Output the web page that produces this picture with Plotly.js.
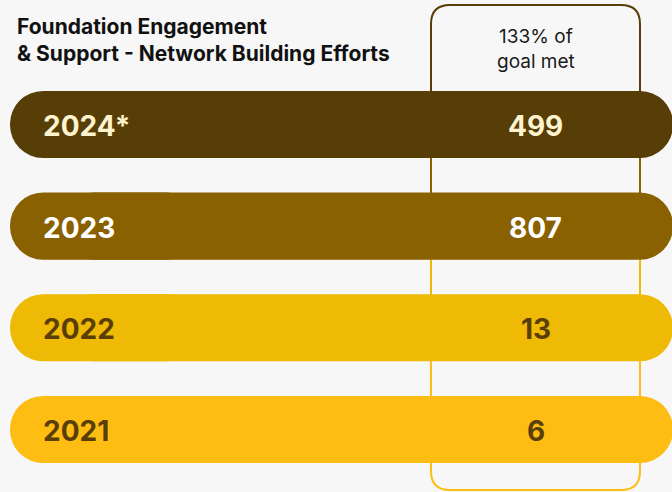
<!DOCTYPE html>
<html>
<head>
<meta charset="utf-8">
<script src="https://cdn.plot.ly/plotly-3.0.1.min.js"></script>
<style>
  html, body { margin: 0; padding: 0; background: #f7f7f7; }
  #chart { width: 672px; height: 492px; }
</style>
</head>
<body>
<div id="chart"></div>
<script>
// ---- data ----
const yearLabels = ['2024*', '2023', '2022', '2021'];
const contacts = [499, 807, 13, 6];
const goalNote = '133% of<br>goal met';
const chartTitle = 'Foundation Engagement<br>& Support - Network Building Efforts';

// ---- style ----
const barColors = ['#573d06', '#8a6100', '#eeba05', '#fdbd13'];
const textColors = ['#fdf3cf', '#ffffff', '#5a3e08', '#5a3e08'];
const W = 672, H = 492;
const FONT = 'Inter, "Noto Sans", sans-serif';

const TRACK_LEFT = 10, TRACK_RIGHT = 673, SPLIT = 200, LEFT_INNER = 60;
const LABEL_X = 41, VALUE_X = 535.5, TEXT_SHIFT = -1.5;
const COL_L = 431, COL_R = 640, COL_TOP = 5, COL_BOT = 490, COL_RAD = 19;

const py = p => 1 - p / H;
// category axis is drawn bottom-up, so the first label sits at the highest index
const catOrder = yearLabels.slice().reverse();
const catIndex = lab => catOrder.indexOf(lab);

const traces = [
  { // main track, rounded at right end
    type: 'bar', orientation: 'h', y: yearLabels,
    base: yearLabels.map(() => LEFT_INNER),
    x: yearLabels.map(() => TRACK_RIGHT - LEFT_INNER),
    width: 0.66, marker: { color: barColors, line: { width: 0 } },
    hoverinfo: 'skip', showlegend: false
  },
  { // left cap, rounded at left end
    type: 'bar', orientation: 'h', y: yearLabels,
    base: yearLabels.map(() => SPLIT),
    x: yearLabels.map(() => TRACK_LEFT - SPLIT),
    width: 0.66, marker: { color: barColors, line: { width: 0 } },
    hoverinfo: 'skip', showlegend: false
  }
];

// column outline segments (each tinted like the bar below it)
const segBounds = [COL_TOP, 130, 230, 330, COL_BOT];
const shapes = [];
const r = COL_RAD;
shapes.push({
  type: 'path', xref: 'x', yref: 'paper', layer: 'below',
  path: `M ${COL_L},${py(segBounds[1])} L ${COL_L},${py(COL_TOP + r)} Q ${COL_L},${py(COL_TOP)} ${COL_L + r},${py(COL_TOP)} L ${COL_R - r},${py(COL_TOP)} Q ${COL_R},${py(COL_TOP)} ${COL_R},${py(COL_TOP + r)} L ${COL_R},${py(segBounds[1])}`,
  line: { color: barColors[0], width: 2 }
});
for (let i = 1; i < 3; i++) {
  shapes.push({
    type: 'path', xref: 'x', yref: 'paper', layer: 'below',
    path: `M ${COL_L},${py(segBounds[i])} L ${COL_L},${py(segBounds[i + 1])} M ${COL_R},${py(segBounds[i])} L ${COL_R},${py(segBounds[i + 1])}`,
    line: { color: barColors[i], width: 2 }
  });
}
shapes.push({
  type: 'path', xref: 'x', yref: 'paper', layer: 'below',
  path: `M ${COL_L},${py(segBounds[3])} L ${COL_L},${py(COL_BOT - r)} Q ${COL_L},${py(COL_BOT)} ${COL_L + r},${py(COL_BOT)} L ${COL_R - r},${py(COL_BOT)} Q ${COL_R},${py(COL_BOT)} ${COL_R},${py(COL_BOT - r)} L ${COL_R},${py(segBounds[3])}`,
  line: { color: barColors[3], width: 2 }
});

const annotations = [];
// title
annotations.push({
  text: chartTitle, x: 15 / W, xref: 'paper', y: py(12), yref: 'paper',
  xanchor: 'left', yanchor: 'top', align: 'left', showarrow: false,
  font: { family: FONT, size: 21, weight: 700, color: '#111111' }
});
// goal note
annotations.push({
  text: goalNote, x: VALUE_X, xref: 'x', y: py(49), yref: 'paper',
  xanchor: 'center', yanchor: 'middle', showarrow: false, align: 'center',
  font: { family: FONT, size: 19, color: '#1a1a1a' }
});
// year labels and values
yearLabels.forEach((lab, i) => {
  annotations.push({
    text: lab, x: LABEL_X, xref: 'x', y: catIndex(lab), yref: 'y',
    xanchor: 'left', yanchor: 'middle', yshift: TEXT_SHIFT, showarrow: false,
    font: { family: FONT, size: 28, weight: 700, color: textColors[i] }
  });
  annotations.push({
    text: String(contacts[i]), x: VALUE_X, xref: 'x', y: catIndex(lab), yref: 'y',
    xanchor: 'center', yanchor: 'middle', yshift: TEXT_SHIFT, showarrow: false,
    font: { family: FONT, size: 28, weight: 700, color: textColors[i] }
  });
});

const layout = {
  width: W, height: H,
  margin: { l: 0, r: 0, t: 0, b: 0, pad: 0 },
  paper_bgcolor: '#f7f7f7', plot_bgcolor: '#f7f7f7',
  barmode: 'overlay', barcornerradius: 33,
  showlegend: false, hovermode: false,
  xaxis: { range: [0, W], visible: false, fixedrange: true },
  yaxis: {
    type: 'category', categoryorder: 'array', categoryarray: catOrder,
    range: [-0.615, 4.2245], visible: false, fixedrange: true
  },
  shapes: shapes,
  annotations: annotations
};

Plotly.newPlot('chart', traces, layout, { staticPlot: true, displayModeBar: false });
</script>
</body>
</html>
